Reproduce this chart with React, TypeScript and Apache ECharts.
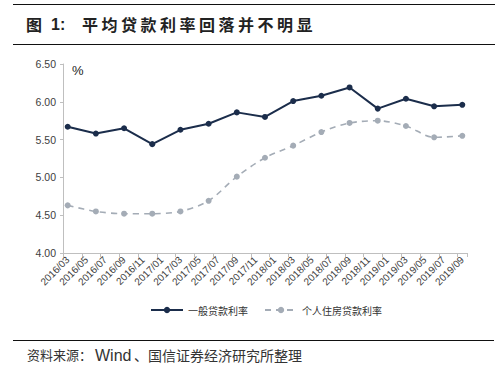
import React, { useEffect, useRef } from "react";
import * as echarts from "echarts";

const startYear = 2016;
const startMonth = 3;
const monthCount = 43; // 2016/03 .. 2019/09
const categories: string[] = [];
for (let i = 0; i < monthCount; i++) {
  const m = startMonth - 1 + i;
  const y = startYear + Math.floor(m / 12);
  const mm = (m % 12) + 1;
  categories.push(`${y}/${mm < 10 ? "0" + mm : mm}`);
}

// quarterly observations, 2016/03 .. 2019/09
const generalLoanRate = [5.67, 5.58, 5.65, 5.44, 5.63, 5.71, 5.86, 5.8, 6.01, 6.08, 6.19, 5.91, 6.04, 5.94, 5.96];
const mortgageRate = [4.63, 4.55, 4.52, 4.52, 4.55, 4.69, 5.01, 5.26, 5.42, 5.6, 5.72, 5.75, 5.68, 5.53, 5.55];
const seriesNames = ["一般贷款利率", "个人住房贷款利率"];
const titleHead = "图";
const titleNum = "1:";
const titleText = "平均贷款利率回落并不明显";
const sourceParts = ["资料来源：", "Wind", "、国信证券经济研究所整理"];

const CJK = '"Noto Sans CJK SC", "Noto Sans", sans-serif';
const LAT = '"Liberation Sans", Arial, sans-serif';

export default function App() {
  const ref = useRef<HTMLDivElement>(null);
  useEffect(() => {
    if (!ref.current) return;
    const chart = echarts.init(ref.current, null, { renderer: "svg" });
    const toPairs = (arr: number[]) => arr.map((v, i) => [i * 3, v]);
    const titleChars: any[] = titleText.split("").map((c, i) => ({
      type: "text",
      x: 82 + i * 19.5,
      y: 16,
      style: { text: c, font: `bold 16px ${CJK}`, fill: "#222" },
    }));
    chart.setOption({
      animation: false,
      backgroundColor: "#fff",
      grid: { left: 63, right: 36, top: 64, bottom: 119 },
      xAxis: {
        type: "category",
        data: categories,
        boundaryGap: true,
        axisLine: { lineStyle: { color: "#bfbfbf", width: 1 } },
        axisTick: { show: true, interval: 1, length: 4, lineStyle: { color: "#bfbfbf" } },
        axisLabel: {
          interval: 1,
          rotate: 45,
          fontSize: 10,
          fontFamily: LAT,
          color: "#404040",
          margin: 5,
        },
        splitLine: { show: false },
      },
      yAxis: {
        type: "value",
        min: 4,
        max: 6.5,
        interval: 0.5,
        axisLine: { show: true, lineStyle: { color: "#bfbfbf" } },
        axisTick: { show: true, length: 3, lineStyle: { color: "#bfbfbf" } },
        axisLabel: {
          formatter: (v: number) => v.toFixed(2),
          fontSize: 10.5,
          fontFamily: LAT,
          color: "#404040",
          margin: 7,
        },
        splitLine: { show: false },
      },
      legend: {
        left: 145,
        top: 300,
        itemWidth: 32,
        itemHeight: 8,
        itemGap: 16,
        textStyle: { fontSize: 10, fontFamily: CJK, color: "#333" },
        data: seriesNames,
      },
      series: [
        {
          name: seriesNames[0],
          type: "line",
          data: toPairs(generalLoanRate),
          symbol: "circle",
          symbolSize: 6,
          itemStyle: { color: "#1b2d4b" },
          lineStyle: { color: "#1b2d4b", width: 2 },
        },
        {
          name: seriesNames[1],
          type: "line",
          data: toPairs(mortgageRate),
          smooth: 0.3,
          symbol: "circle",
          symbolSize: 6,
          itemStyle: { color: "#a4acb6" },
          lineStyle: { color: "#a4acb6", width: 1.6, type: [6, 5] },
        },
      ],
      graphic: [
        { type: "line", shape: { x1: 13, y1: 4.5, x2: 495, y2: 4.5 }, style: { stroke: "#111", lineWidth: 1.2 } },
        { type: "line", shape: { x1: 13, y1: 44.5, x2: 495, y2: 44.5 }, style: { stroke: "#111", lineWidth: 1 } },
        { type: "text", x: 26, y: 16, style: { text: titleHead, font: `bold 16px ${CJK}`, fill: "#222" } },
        { type: "text", x: 51, y: 16, style: { text: titleNum, font: `bold 16px ${LAT}`, fill: "#222" } },
        ...titleChars,
        { type: "text", x: 72, y: 64, style: { text: "%", font: `13px ${LAT}`, fill: "#222" } },
        { type: "line", shape: { x1: 13, y1: 340.5, x2: 494, y2: 340.5 }, style: { stroke: "#111", lineWidth: 1 } },
        { type: "text", x: 27, y: 348, style: { text: sourceParts[0], font: `13px ${CJK}`, fill: "#333" } },
        { type: "text", x: 95, y: 347, style: { text: sourceParts[1], font: `16px ${LAT}`, fill: "#333" } },
        { type: "text", x: 134, y: 348, style: { text: sourceParts[2], font: `14px ${CJK}`, fill: "#333" } },
      ],
    });
    return () => chart.dispose();
  }, []);
  return (
    <div
      ref={ref}
      style={{ position: "fixed", left: 0, top: 0, width: 503, height: 372 }}
    />
  );
}
